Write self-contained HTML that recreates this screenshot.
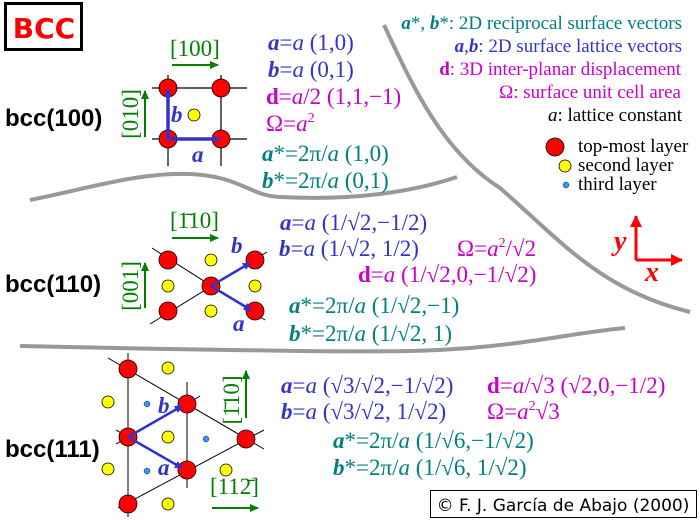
<!DOCTYPE html>
<html><head><meta charset="utf-8"><style>
html,body{margin:0;padding:0;background:#fff}
svg{display:block}
.m{font-family:"Liberation Serif",serif;font-size:23px}
.bl{fill:#3333cc}.mg{fill:#cc00cc}.tl{fill:#008080}.gr{fill:#008000}
.bi{font-weight:bold;font-style:italic}
.it{font-style:italic}
.lab{font-family:"Liberation Sans",sans-serif;font-size:24px;font-weight:bold;fill:#000}
.lg{font-family:"Liberation Serif",serif;font-size:19px}
</style></head><body>
<svg width="700" height="520" viewBox="0 0 700 520" xmlns="http://www.w3.org/2000/svg">
<defs>
<marker id="ab" markerWidth="8" markerHeight="8" refX="7" refY="4" orient="auto" markerUnits="userSpaceOnUse"><path d="M0,0 L8,4 L0,8z" fill="#3333cc"/></marker>
<marker id="ag" markerWidth="9" markerHeight="8" refX="8" refY="4" orient="auto" markerUnits="userSpaceOnUse"><path d="M0,0 L9,4 L0,8z" fill="#008000"/></marker>
<marker id="ar" markerWidth="12" markerHeight="12" refX="11" refY="6" orient="auto" markerUnits="userSpaceOnUse"><path d="M0,0 L12,6 L0,12z" fill="#f00"/></marker>
</defs>
<g fill="none" stroke="#999" stroke-width="4">
<path d="M384,25 C410,80 440,150 500,188 C560,240 600,290 690,312"/>
<path d="M30,200 C90,188 140,172 190,174 C240,176 250,196 280,197 C340,200 400,196 457,177"/>
<path d="M20,346 C120,348 200,350 300,351 C400,352 430,351 470,348 C540,342 580,332 625,328"/>
</g>
<rect x="5.5" y="3.5" width="76" height="46" fill="#fff" stroke="#000" stroke-width="3"/>
<text x="44" y="38" text-anchor="middle" font-family="DejaVu Sans,sans-serif" font-weight="bold" font-size="28" fill="#f00">BCC</text>

<!-- bcc(100) -->
<text class="lab" x="5" y="126">bcc(100)</text>
<g stroke="#000" stroke-width="1.2">
<line x1="152" y1="88" x2="247" y2="88"/><line x1="152" y1="139" x2="247" y2="139"/>
<line x1="168" y1="75" x2="168" y2="166"/><line x1="221" y1="75" x2="221" y2="166"/>
</g>
<g fill="#f00" stroke="#000" stroke-width="0.8">
<circle cx="168" cy="88" r="9"/><circle cx="221" cy="88" r="9"/><circle cx="168" cy="139" r="9"/><circle cx="221" cy="139" r="9"/>
</g>
<circle cx="194" cy="115" r="6" fill="#ff0" stroke="#000" stroke-width="0.8"/>
<g stroke="#3333cc" stroke-width="3.5"><line x1="168" y1="139" x2="219" y2="139" marker-end="url(#ab)"/><line x1="168" y1="139" x2="168" y2="90" marker-end="url(#ab)"/></g>
<text class="m bl bi" x="171" y="122" font-size="24">b</text>
<text class="m bl bi" x="192" y="162" font-size="24">a</text>
<text class="m gr" x="170" y="56" font-size="24">[100]</text>
<line x1="172" y1="65" x2="218" y2="65" stroke="#008000" stroke-width="2" marker-end="url(#ag)"/>
<text class="m gr" font-size="24" transform="translate(138,114) rotate(-90)" text-anchor="middle">[010]</text>
<line x1="145" y1="137" x2="145" y2="91" stroke="#008000" stroke-width="2" marker-end="url(#ag)"/>

<text class="m bl" x="268" y="50"><tspan class="bi">a</tspan>=<tspan class="it">a</tspan> (1,0)</text>
<text class="m bl" x="268" y="77"><tspan class="bi">b</tspan>=<tspan class="it">a</tspan> (0,1)</text>
<text class="m mg" x="266" y="104"><tspan font-weight="bold">d</tspan>=<tspan class="it">a</tspan>/2 (1,1,−1)</text>
<text class="m mg" x="266" y="131">Ω=<tspan class="it">a</tspan><tspan font-size="14" dy="-9">2</tspan></text>
<text class="m tl" x="262" y="161"><tspan class="bi">a</tspan>*=2π/<tspan class="it">a</tspan> (1,0)</text>
<text class="m tl" x="262" y="188"><tspan class="bi">b</tspan>*=2π/<tspan class="it">a</tspan> (0,1)</text>

<text class="lg tl" x="682" y="29" text-anchor="end"><tspan class="bi">a</tspan>*, <tspan class="bi">b</tspan>*: 2D reciprocal surface vectors</text>
<text class="lg bl" x="682" y="52" text-anchor="end"><tspan class="bi">a</tspan>,<tspan class="bi">b</tspan>: 2D surface lattice vectors</text>
<text class="lg mg" x="681" y="75" text-anchor="end"><tspan font-weight="bold">d</tspan>: 3D inter-planar displacement</text>
<text class="lg mg" x="681" y="98" text-anchor="end">Ω: surface unit cell area</text>
<text class="lg" x="682" y="121" text-anchor="end" fill="#000"><tspan class="it">a</tspan>: lattice constant</text>
<circle cx="555" cy="147" r="9" fill="#f00" stroke="#000" stroke-width="0.8"/>
<circle cx="565" cy="166" r="6" fill="#ff0" stroke="#000" stroke-width="0.8"/>
<circle cx="566" cy="185" r="3" fill="#3399ff" stroke="#000" stroke-width="0.4"/>
<text class="lg" x="578" y="152" fill="#000">top-most layer</text>
<text class="lg" x="578" y="171" fill="#000">second layer</text>
<text class="lg" x="578" y="190" fill="#000">third layer</text>

<!-- bcc(110) -->
<text class="lab" x="5" y="292">bcc(110)</text>
<g stroke="#000" stroke-width="1"><line x1="152" y1="248" x2="265" y2="320"/><line x1="150" y1="324" x2="267" y2="252"/></g>
<g fill="#ff0" stroke="#000" stroke-width="0.8">
<circle cx="211" cy="260" r="6"/><circle cx="168" cy="286" r="6"/><circle cx="255" cy="286" r="6"/><circle cx="211" cy="311" r="6"/>
</g>
<g fill="#f00" stroke="#000" stroke-width="0.8">
<circle cx="168" cy="260" r="9"/><circle cx="255" cy="260" r="9"/><circle cx="211" cy="286" r="9"/><circle cx="168" cy="311" r="9"/><circle cx="255" cy="311" r="9"/>
</g>
<g stroke="#3333cc" stroke-width="2.5"><line x1="211" y1="286" x2="250" y2="263" marker-end="url(#ab)"/><line x1="211" y1="286" x2="251" y2="310" marker-end="url(#ab)"/></g>
<text class="m bl bi" x="231" y="253" font-size="24">b</text>
<text class="m bl bi" x="233" y="331" font-size="24">a</text>
<text class="m gr" x="170" y="228" font-size="24">[1̄10]</text>
<line x1="172" y1="238" x2="218" y2="238" stroke="#008000" stroke-width="2" marker-end="url(#ag)"/>
<text class="m gr" font-size="24" transform="translate(138,286) rotate(-90)" text-anchor="middle">[001]</text>
<line x1="145" y1="308" x2="145" y2="263" stroke="#008000" stroke-width="2" marker-end="url(#ag)"/>

<text class="m bl" x="280" y="230"><tspan class="bi">a</tspan>=<tspan class="it">a</tspan> (1/√2,−1/2)</text>
<text class="m bl" x="279" y="256"><tspan class="bi">b</tspan>=<tspan class="it">a</tspan> (1/√2, 1/2)</text>
<text class="m mg" x="457" y="256">Ω=<tspan class="it">a</tspan><tspan font-size="14" dy="-9">2</tspan><tspan dy="9">/√2</tspan></text>
<text class="m mg" x="358" y="282"><tspan font-weight="bold">d</tspan>=<tspan class="it">a</tspan> (1/√2,0,−1/√2)</text>
<text class="m tl" x="289" y="313"><tspan class="bi">a</tspan>*=2π/<tspan class="it">a</tspan> (1/√2,−1)</text>
<text class="m tl" x="289" y="341"><tspan class="bi">b</tspan>*=2π/<tspan class="it">a</tspan> (1/√2, 1)</text>

<line x1="636" y1="260" x2="636" y2="216" stroke="#f00" stroke-width="3" marker-end="url(#ar)"/>
<line x1="636" y1="260" x2="682" y2="260" stroke="#f00" stroke-width="3" marker-end="url(#ar)"/>
<text x="614" y="250" font-family="Liberation Serif,serif" font-size="28" font-weight="bold" font-style="italic" fill="#f00">y</text>
<text x="645" y="281" font-family="Liberation Serif,serif" font-size="28" font-weight="bold" font-style="italic" fill="#f00">x</text>

<!-- bcc(111) -->
<text class="lab" x="5" y="457">bcc(111)</text>
<g stroke="#000" stroke-width="1">
<line x1="128" y1="353" x2="128" y2="517"/><line x1="187" y1="382" x2="187" y2="488"/>
<line x1="108" y1="358" x2="264" y2="449"/><line x1="118" y1="508" x2="264" y2="430"/>
<line x1="116" y1="430" x2="140" y2="444"/><line x1="116" y1="444" x2="140" y2="430"/>
<line x1="178" y1="410" x2="200" y2="396"/>
</g>
<g fill="#ff0" stroke="#000" stroke-width="0.8">
<circle cx="168" cy="368" r="6"/><circle cx="108" cy="402" r="6"/><circle cx="168" cy="437" r="6"/><circle cx="108" cy="469" r="6"/><circle cx="226" cy="470" r="6"/><circle cx="168" cy="504" r="6"/>
</g>
<g fill="#3399ff" stroke="#000" stroke-width="0.4">
<circle cx="147" cy="404" r="3"/><circle cx="206" cy="439" r="3"/><circle cx="147" cy="471" r="3"/>
</g>
<g fill="#f00" stroke="#000" stroke-width="0.8">
<circle cx="128" cy="369" r="9"/><circle cx="187" cy="404" r="9"/><circle cx="128" cy="437" r="9"/><circle cx="246" cy="439" r="9"/><circle cx="187" cy="470" r="9"/><circle cx="128" cy="504" r="9"/>
</g>
<g stroke="#3333cc" stroke-width="2.5"><line x1="128" y1="437" x2="182" y2="406" marker-end="url(#ab)"/><line x1="128" y1="437" x2="182" y2="468" marker-end="url(#ab)"/></g>
<text class="m bl bi" x="158" y="413" font-size="24">b</text>
<text class="m bl bi" x="158" y="475" font-size="24">a</text>
<text class="m gr" font-size="24" transform="translate(239,400) rotate(-90)" text-anchor="middle">[1̄10]</text>
<line x1="246" y1="418" x2="246" y2="371" stroke="#008000" stroke-width="2" marker-end="url(#ag)"/>
<text class="m gr" x="210" y="494" font-size="24">[112̄]</text>
<line x1="212" y1="508" x2="258" y2="508" stroke="#008000" stroke-width="2" marker-end="url(#ag)"/>

<text class="m bl" x="281" y="393"><tspan class="bi">a</tspan>=<tspan class="it">a</tspan> (√3/√2,−1/√2)</text>
<text class="m bl" x="281" y="419"><tspan class="bi">b</tspan>=<tspan class="it">a</tspan> (√3/√2, 1/√2)</text>
<text class="m mg" x="487" y="393"><tspan font-weight="bold">d</tspan>=<tspan class="it">a</tspan>/√3 (√2,0,−1/2)</text>
<text class="m mg" x="487" y="419">Ω=<tspan class="it">a</tspan><tspan font-size="14" dy="-9">2</tspan><tspan dy="9">√3</tspan></text>
<text class="m tl" x="333" y="448"><tspan class="bi">a</tspan>*=2π/<tspan class="it">a</tspan> (1/√6,−1/√2)</text>
<text class="m tl" x="333" y="475"><tspan class="bi">b</tspan>*=2π/<tspan class="it">a</tspan> (1/√6, 1/√2)</text>

<rect x="430.5" y="490.5" width="266" height="27" fill="#fff" stroke="#000" stroke-width="1"/>
<text x="563" y="511" text-anchor="middle" font-family="DejaVu Sans,sans-serif" font-size="17" fill="#000">© F. J. García de Abajo (2000)</text>
</svg>
</body></html>
